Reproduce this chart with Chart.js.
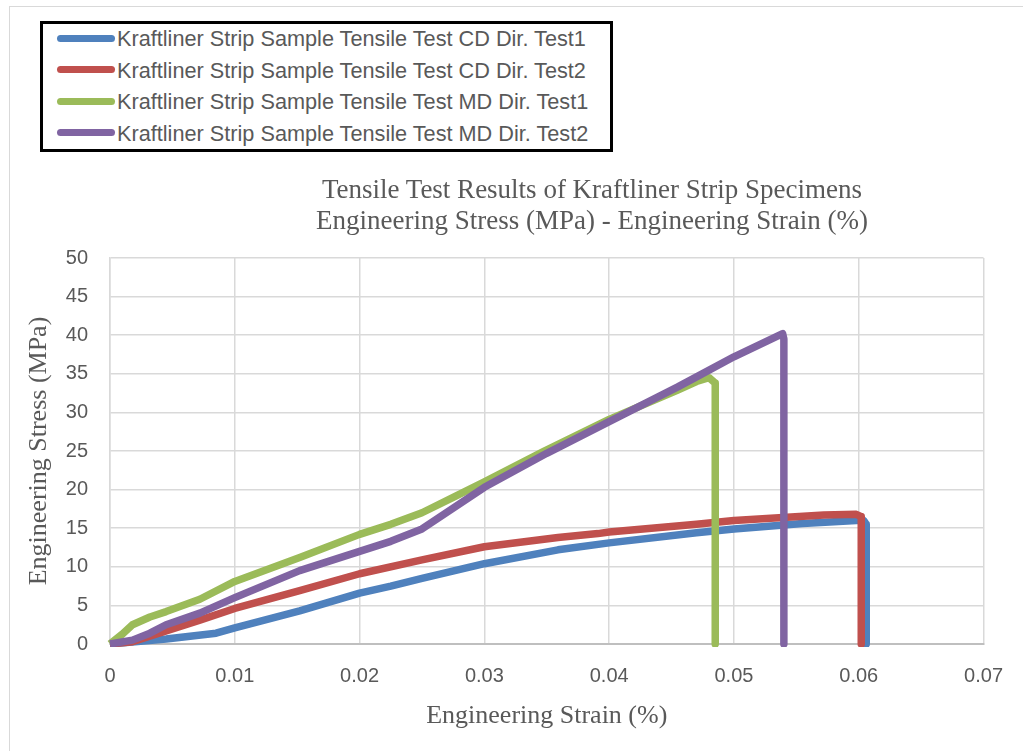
<!DOCTYPE html>
<html>
<head>
<meta charset="utf-8">
<script src="https://cdn.jsdelivr.net/npm/chart.js@4.4.1/dist/chart.umd.min.js"></script>
<style>
  body { margin: 0; background: #fff; }
  #wrap { position: relative; width: 1023px; height: 751px; overflow: hidden; }
  #frame { position: absolute; left: 9px; top: 6px; width: 1100px; height: 800px; border: 1px solid #d9d9d9; }
  #chart { position: absolute; left: 0; top: 0; }
  #legend {
    position: absolute; left: 40px; top: 21px; width: 573px; height: 131px;
    box-sizing: border-box; border: 3px solid #000; background: #fff;
    padding: 0 0 0 14px;
    font-family: "Liberation Sans", Arial, sans-serif; font-size: 21.7px; color: #595959;
  }
  .row { height: 31.5px; line-height: 30px; white-space: nowrap; }
  .sw { display: inline-block; width: 58px; height: 7px; border-radius: 4px; vertical-align: middle; margin-right: 2px; position: relative; top: -2px; }
  #title {
    position: absolute; left: 292px; top: 174px; width: 600px; text-align: center;
    font-family: "Liberation Serif", "Times New Roman", serif; font-size: 27px; line-height: 31px; color: #595959;
  }
</style>
</head>
<body>
<div id="wrap">
  <div id="frame"></div>
  <canvas id="chart" width="1023" height="751"></canvas>
  <div id="title">Tensile Test Results of Kraftliner Strip Specimens<br>Engineering Stress (MPa) - Engineering Strain (%)</div>
  <div id="legend"></div>
</div>
<script>
// series names and colours
const seriesNames = [
    'Kraftliner Strip Sample Tensile Test CD Dir. Test1',
    'Kraftliner Strip Sample Tensile Test CD Dir. Test2',
    'Kraftliner Strip Sample Tensile Test MD Dir. Test1',
    'Kraftliner Strip Sample Tensile Test MD Dir. Test2'
];
const seriesColors = ['#4F81BD', '#C0504D', '#9BBB59', '#8064A2'];

// CD direction, test 1
const cdTest1Strain = [0, 0.002, 0.0045, 0.0085, 0.01, 0.0152, 0.02, 0.0225, 0.025, 0.03, 0.0359, 0.04, 0.047, 0.05, 0.0555, 0.0598, 0.0604, 0.0606, 0.0606];
const cdTest1Stress = [0, 0.3, 0.65, 1.4, 2.1, 4.3, 6.6, 7.5, 8.5, 10.4, 12.2, 13.1, 14.4, 14.9, 15.6, 16.0, 16.0, 15.5, 0];

// CD direction, test 2
const cdTest2Strain = [0, 0.0018, 0.0045, 0.0072, 0.01, 0.0152, 0.02, 0.025, 0.03, 0.0359, 0.0391, 0.04, 0.047, 0.05, 0.0572, 0.0598, 0.0602, 0.0602];
const cdTest2Stress = [0, 0.3, 1.7, 3.1, 4.6, 6.9, 9.1, 10.9, 12.6, 13.8, 14.3, 14.5, 15.5, 16.0, 16.7, 16.8, 16.5, 0];

// MD direction, test 1
const mdTest1Strain = [0, 0.001, 0.0018, 0.0032, 0.0045, 0.0072, 0.01, 0.0152, 0.02, 0.0225, 0.025, 0.0275, 0.03, 0.0348, 0.04, 0.0455, 0.047, 0.048, 0.0485, 0.0485];
const mdTest1Stress = [0, 1.3, 2.5, 3.5, 4.2, 5.8, 8.1, 11.2, 14.2, 15.5, 17.0, 19.0, 21.0, 25.0, 29.1, 32.9, 34.0, 34.5, 33.8, 0];

// MD direction, test 2
const mdTest2Strain = [0, 0.0018, 0.0032, 0.0045, 0.0072, 0.01, 0.0152, 0.02, 0.0225, 0.025, 0.0275, 0.03, 0.035, 0.04, 0.0455, 0.047, 0.05, 0.0526, 0.0539, 0.054, 0.054];
const mdTest2Stress = [0, 0.5, 1.4, 2.5, 4.0, 6.0, 9.5, 12.0, 13.3, 14.9, 17.6, 20.3, 24.7, 28.8, 33.3, 34.6, 37.2, 39.2, 40.2, 39.5, 0];

// axis ticks
const xTickLabels = ['0', '0.01', '0.02', '0.03', '0.04', '0.05', '0.06', '0.07'];
const yTickLabels = ['0', '5', '10', '15', '20', '25', '30', '35', '40', '45', '50'];

const strains = [cdTest1Strain, cdTest2Strain, mdTest1Strain, mdTest2Strain];
const stresses = [cdTest1Stress, cdTest2Stress, mdTest1Stress, mdTest2Stress];

function toPoints(xs, ys) {
    return xs.map((x, i) => ({ x: x, y: ys[i] }));
}

// legend box
const legendEl = document.getElementById('legend');
seriesNames.forEach((name, i) => {
    const row = document.createElement('div');
    row.className = 'row';
    const sw = document.createElement('span');
    sw.className = 'sw';
    sw.style.background = seriesColors[i];
    row.appendChild(sw);
    row.appendChild(document.createTextNode(name));
    legendEl.appendChild(row);
});

const tickFont = { family: '"Liberation Sans", Arial, sans-serif', size: 20 };
const titleFont = { family: '"Liberation Serif", "Times New Roman", serif', size: 26 };
const gray = '#595959';

// later series drawn on top (purple over green over red over blue)
const datasets = seriesNames.map((name, i) => ({
    label: name,
    data: toPoints(strains[i], stresses[i]),
    borderColor: seriesColors[i],
    backgroundColor: seriesColors[i],
    borderWidth: 7.5,
    pointRadius: 0,
    showLine: true,
    tension: 0,
    borderJoinStyle: 'round',
    borderCapStyle: 'butt',
    order: seriesNames.length - i,
    clip: { left: 5, top: 5, right: 5, bottom: 3 }
}));

new Chart(document.getElementById('chart'), {
    type: 'scatter',
    data: { datasets: datasets },
    options: {
        responsive: false,
        animation: false,
        layout: { padding: { left: 10, top: 258, right: 36, bottom: 0 } },
        plugins: {
            legend: { display: false },
            tooltip: { enabled: false }
        },
        scales: {
            x: {
                type: 'linear',
                min: 0,
                max: 0.07,
                afterBuildTicks: s => { s.ticks = xTickLabels.map(t => ({ value: Number(t) })); },
                afterFit: s => { s.height = 107; },
                ticks: {
                    callback: (v, i) => xTickLabels[i],
                    color: gray,
                    font: tickFont,
                    padding: 20,
                    maxRotation: 0
                },
                grid: { color: '#d9d9d9', lineWidth: 1.5, drawTicks: false },
                border: { color: '#bfbfbf', width: 2 },
                title: {
                    display: true,
                    text: 'Engineering Strain (%)',
                    color: gray,
                    font: titleFont,
                    padding: { top: 0, bottom: 19 }
                }
            },
            y: {
                min: 0,
                max: 50,
                afterBuildTicks: s => { s.ticks = yTickLabels.map(t => ({ value: Number(t) })); },
                afterFit: s => { s.width = 100; },
                ticks: {
                    callback: (v, i) => yTickLabels[i],
                    color: gray,
                    font: tickFont,
                    padding: 22
                },
                grid: { color: '#d9d9d9', lineWidth: 1.5, drawTicks: false },
                border: { color: '#d9d9d9', width: 1.5 },
                title: {
                    display: true,
                    text: 'Engineering Stress (MPa)',
                    color: gray,
                    font: titleFont,
                    padding: { top: 14, bottom: 0 }
                }
            }
        }
    }
});
</script>
</body>
</html>
